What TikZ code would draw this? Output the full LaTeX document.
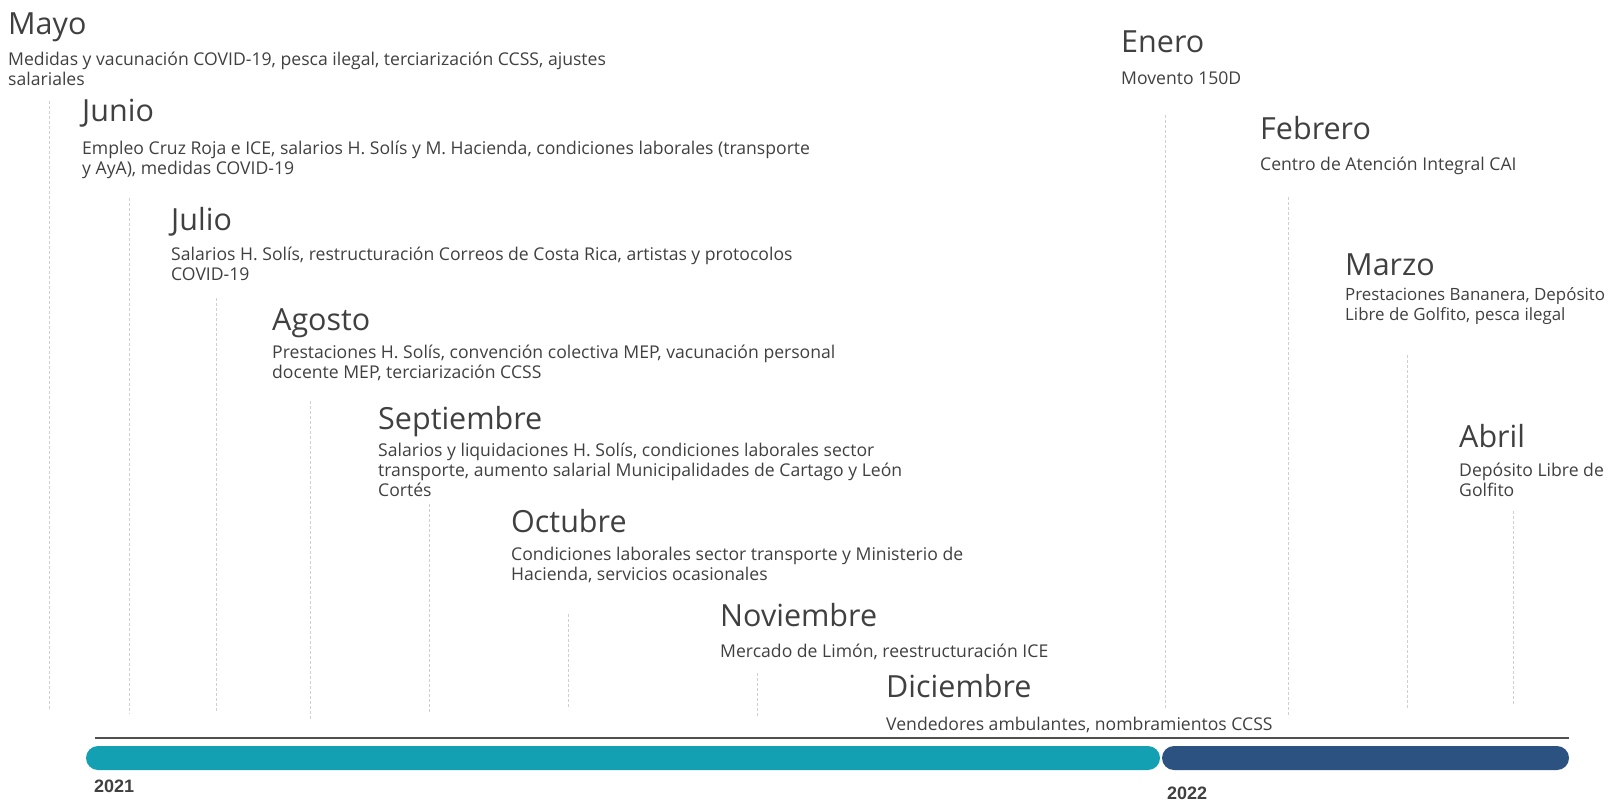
\documentclass[tikz,border=0pt]{standalone}
\usepackage{fontspec}
\setmainfont{Open Sans}
\newfontfamily\yearfont{Liberation Sans}
\definecolor{txtgray}{HTML}{404040}
\definecolor{bar21}{HTML}{14A0B3}
\definecolor{bar22}{HTML}{2C5282}
\definecolor{guidegray}{HTML}{CFCFCF}
\definecolor{axisgray}{HTML}{505050}
\newcommand{\topstrut}{\rule{0pt}{16pt}}

\begin{document}
\begin{tikzpicture}[x=1pt,y=-1pt,
    month/.style={anchor=base west,inner sep=0pt,text=txtgray,font=\fontsize{30.5}{36}\selectfont},
    topic/.style={anchor=north west,inner sep=0pt,align=left,text=txtgray,
        font=\fontsize{17.6}{20}\selectfont,execute at begin node=\topstrut},
    guideline/.style={draw=guidegray,line width=0.8pt,dash pattern=on 3pt off 2pt},
    yearlabel/.style={anchor=west,inner sep=0pt,text=txtgray,font=\yearfont\bfseries\fontsize{18}{20}\selectfont}]
\useasboundingbox (0,0) rectangle (1612,801);

% guide lines down to the bar
\foreach \n/\x/\ya/\yb in {may/49/101/709, jun/129.5/198/714, jul/216/298/712,
    ago/310/401/720, sep/429/504/714, oct/568/614/709, nov/757/673/717,
    ene/1165/115/709, feb/1288/197/717, mar/1407/355/709, abr/1513/511/706}
{
    \coordinate (\n-a) at (\x,\ya);
    \coordinate (\n-b) at (\x,\yb);
    \draw[guideline] (\n-a) -- (\n-b);
}

% 2021
\node[month] (may) at (8,34) {Mayo};
\node[topic] (mayT) at (8,52) {Medidas y vacunación COVID-19, pesca ilegal, terciarización CCSS, ajustes\\salariales};
\node[month] (jun) at (82,121) {Junio};
\node[topic] (junT) at (82,141) {Empleo Cruz Roja e ICE, salarios H. Solís y M. Hacienda, condiciones laborales (transporte\\y AyA), medidas COVID-19};
\node[month] (jul) at (171,230) {Julio};
\node[topic] (julT) at (171,247) {Salarios H. Solís, restructuración Correos de Costa Rica, artistas y protocolos\\COVID-19};
\node[month] (ago) at (272,330) {Agosto};
\node[topic] (agoT) at (272,345) {Prestaciones H. Solís, convención colectiva MEP, vacunación personal\\docente MEP, terciarización CCSS};
\node[month] (sep) at (378,429) {Septiembre};
\node[topic] (sepT) at (378,443) {Salarios y liquidaciones H. Solís, condiciones laborales sector\\transporte, aumento salarial Municipalidades de Cartago y León\\Cortés};
\node[month] (oct) at (511,532) {Octubre};
\node[topic] (octT) at (511,547) {Condiciones laborales sector transporte y Ministerio de\\Hacienda, servicios ocasionales};
\node[month] (nov) at (720,626) {Noviembre};
\node[topic] (novT) at (720,641) {Mercado de Limón, reestructuración ICE};
\node[month] (dic) at (886,697) {Diciembre};
\node[topic] (dicT) at (886,714) {Vendedores ambulantes, nombramientos CCSS};

% 2022
\node[month] (ene) at (1121,52) {Enero};
\node[topic] (eneT) at (1121,68) {Movento 150D};
\node[month] (feb) at (1260,139) {Febrero};
\node[topic] (febT) at (1260,154) {Centro de Atención Integral CAI};
\node[month] (mar) at (1345,275) {Marzo};
\node[topic,font=\fontsize{16.9}{20}\selectfont] (marT) at (1345,287) {Prestaciones Bananera, Depósito\\Libre de Golfito, pesca ilegal};
\node[month] (abr) at (1459,447) {Abril};
\node[topic] (abrT) at (1459,463) {Depósito Libre de\\Golfito};

% time bar
\draw[axisgray,line width=2.5pt] (95,738) -- (1569,738);
\fill[bar21,rounded corners=12pt] (86,746) rectangle (1160,770);
\fill[bar22,rounded corners=12pt] (1162,746) rectangle (1569,770);

\node[yearlabel] (y21) at (94,786) {2021};
\node[yearlabel] (y22) at (1167,793) {2022};

\end{tikzpicture}
\end{document}
